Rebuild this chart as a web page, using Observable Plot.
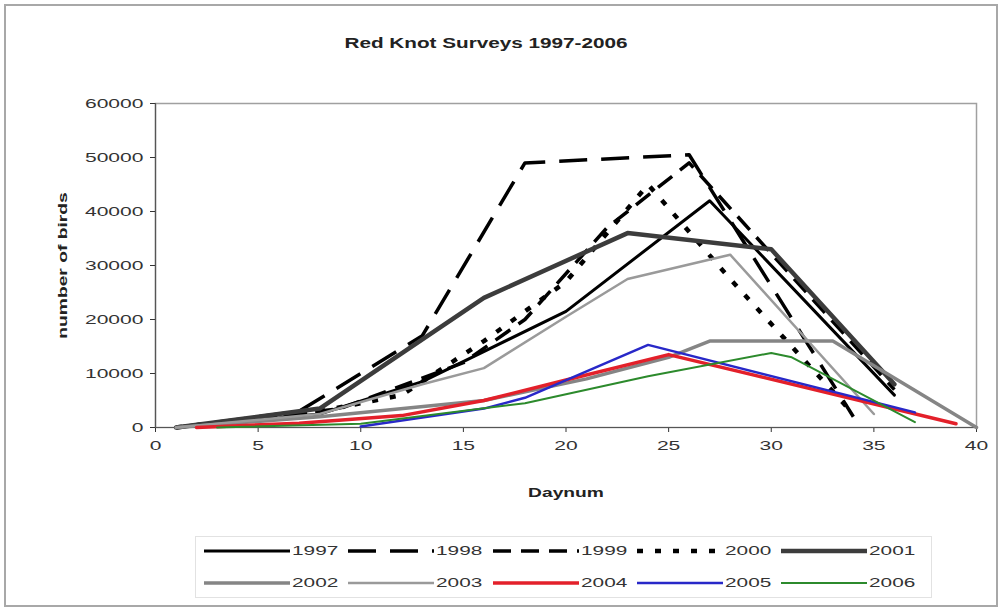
<!DOCTYPE html>
<html><head><meta charset="utf-8">
<script src="https://cdn.jsdelivr.net/npm/d3@7"></script>
<script src="https://cdn.jsdelivr.net/npm/@observablehq/plot@0.6"></script>
<style>
body{margin:0;background:#fff;font-family:"Liberation Sans",Arial,sans-serif;}
#wrap{position:relative;width:1002px;height:611px;overflow:hidden;}
#border{position:absolute;left:4px;top:4px;width:990px;height:599px;border:2px solid #a8a8a8;pointer-events:none;}
#legend{position:absolute;left:195px;top:536px;width:735px;height:60px;border:1px solid #e2e2e2;}
.item{position:absolute;height:20px;width:140px;}
.item svg{position:absolute;left:0;top:5px;}
.item span{position:absolute;left:88px;top:2px;font-size:13px;color:#333;transform:scaleX(1.6);transform-origin:left center;white-space:nowrap;}
</style></head><body>
<div id="wrap"><div id="border"></div><div id="legend"></div></div>
<script>
// ---- data ----
const years = ["1997","1998","1999","2000","2001","2002","2003","2004","2005","2006"];

const days1997 = [1, 8, 13, 20, 27, 36];
const birds1997 = [0, 2500, 8500, 21500, 42000, 6000];

const days1998 = [1, 7, 13, 18, 26, 34];
const birds1998 = [0, 3000, 17000, 49000, 50500, 2000];

const days1999 = [1, 9, 15, 18, 22, 26, 36];
const birds1999 = [0, 3500, 12000, 20000, 37000, 49000, 7000];

const days2000 = [1, 8, 12, 16, 20, 24, 28, 34];
const birds2000 = [0, 3000, 6000, 16000, 27000, 45000, 27500, 2500];

const days2001 = [1, 8, 16, 23, 30, 36];
const birds2001 = [0, 3500, 24000, 36000, 33000, 8000];

const days2002 = [1, 8, 16, 21, 25, 27, 33, 40];
const birds2002 = [0, 2000, 5000, 9000, 13000, 16000, 16000, 0];

const days2003 = [1, 8, 13, 16, 20, 23, 28, 35];
const birds2003 = [0, 2500, 8000, 11000, 20500, 27500, 32000, 2500];

const days2004 = [2, 7, 12, 16, 20, 25, 39];
const birds2004 = [0, 800, 2200, 5000, 8800, 13500, 700];

const days2005 = [10, 16, 18, 24, 37];
const birds2005 = [200, 3500, 5500, 15300, 2800];

const days2006 = [3, 10, 18, 24, 30, 31, 37];
const birds2006 = [0, 700, 4500, 9500, 13800, 13000, 1000];

const xTicks = [0, 5, 10, 15, 20, 25, 30, 35, 40];
const yTicks = [0, 10000, 20000, 30000, 40000, 50000, 60000];
const titleText = "Red Knot Surveys 1997-2006";
const xLabel = "Daynum";
const yLabel = "number of birds";

// ---- styling ----
const styles = {
  "1997": {stroke:"#000", width:3, dash:null},
  "1998": {stroke:"#000", width:3.5, dash:"28,14"},
  "1999": {stroke:"#000", width:3.5, dash:"18,10"},
  "2000": {stroke:"#000", width:4.5, dash:"6,12"},
  "2001": {stroke:"#3c3c3c", width:4.5, dash:null},
  "2002": {stroke:"#858585", width:3.5, dash:null},
  "2003": {stroke:"#9a9a9a", width:2.5, dash:null},
  "2004": {stroke:"#e3202a", width:3.5, dash:null},
  "2005": {stroke:"#2828c8", width:2.5, dash:null},
  "2006": {stroke:"#2c8a2c", width:2, dash:null}
};
const seriesDays = {"1997":days1997,"1998":days1998,"1999":days1999,"2000":days2000,"2001":days2001,"2002":days2002,"2003":days2003,"2004":days2004,"2005":days2005,"2006":days2006};
const seriesBirds = {"1997":birds1997,"1998":birds1998,"1999":birds1999,"2000":birds2000,"2001":birds2001,"2002":birds2002,"2003":birds2003,"2004":birds2004,"2005":birds2005,"2006":birds2006};

const rows = years.flatMap(y => seriesDays[y].map((d, i) => ({year: y, day: d, birds: seriesBirds[y][i]})));

const lineMarks = years.map(y => Plot.line(rows.filter(r => r.year === y), {
  x: "day", y: "birds",
  stroke: styles[y].stroke,
  strokeWidth: styles[y].width,
  strokeDasharray: styles[y].dash || undefined,
  strokeLinejoin: "round",
  strokeLinecap: styles[y].dash ? "butt" : "round"
}));

const plot = Plot.plot({
  width: 1002, height: 611,
  marginLeft: 155, marginRight: 26, marginTop: 103, marginBottom: 184,
  style: {fontFamily: "'Liberation Sans', Arial, sans-serif", fontSize: "13px", color: "#333", background: "transparent"},
  x: {domain: [0, 40]},
  y: {domain: [0, 60000]},
  marks: [
    Plot.frame({stroke: "#a0a0a0", strokeWidth: 1.5}),
    Plot.axisX({ticks: xTicks, tickSize: 5, tickPadding: 8, label: null, tickFormat: d => String(d)}),
    Plot.axisY({ticks: yTicks, tickSize: 5, tickPadding: 7, label: null, tickFormat: d => String(d)}),
    Plot.ruleX([0], {stroke: "#555", strokeWidth: 1.2}),
    Plot.ruleY([0], {stroke: "#555", strokeWidth: 1.2}),
    ...lineMarks,
    Plot.text([titleText], {text: d => d, frameAnchor: "top", dy: -60, dx: -80, lineAnchor: "middle", textAnchor: "middle", fontWeight: "bold", fontSize: 14, fill: "#222"}),
    Plot.text([xLabel], {text: d => d, frameAnchor: "bottom", dy: 65, lineAnchor: "middle", textAnchor: "middle", fontWeight: "bold", fontSize: 13, fill: "#222"}),
    Plot.text([yLabel], {text: d => d, frameAnchor: "left", dx: -93, rotate: -90, lineAnchor: "middle", textAnchor: "middle", fontWeight: "bold", fontSize: 13, fill: "#222"})
  ]
});

// mimic the horizontally stretched lettering of the reference
plot.querySelectorAll("text").forEach(t => {
  const tr = t.getAttribute("transform");
  if (!tr) return;
  const g = t.closest("g[aria-label]");
  const isTick = g && /tick label/.test(g.getAttribute("aria-label"));
  t.setAttribute("transform", tr + (isTick ? " scale(1.62,1)" : " scale(1.48,1)"));
});
plot.style.position = "absolute";
plot.style.left = "0px";
plot.style.top = "0px";
document.getElementById("wrap").prepend(plot);

// legend
const legend = document.getElementById("legend");
years.forEach((y, i) => {
  const row = Math.floor(i / 5), col = i % 5;
  const item = document.createElement("div");
  item.className = "item";
  item.style.left = (8 + col * 144.3) + "px";
  item.style.top = (4 + row * 32) + "px";
  const s = styles[y];
  item.innerHTML = `<svg width="86" height="10"><line x1="0" y1="5" x2="86" y2="5" stroke="${s.stroke}" stroke-width="${s.width}" ${s.dash ? `stroke-dasharray="${s.dash}"` : ""}/></svg><span>${y}</span>`;
  legend.appendChild(item);
});
</script>
</body></html>
